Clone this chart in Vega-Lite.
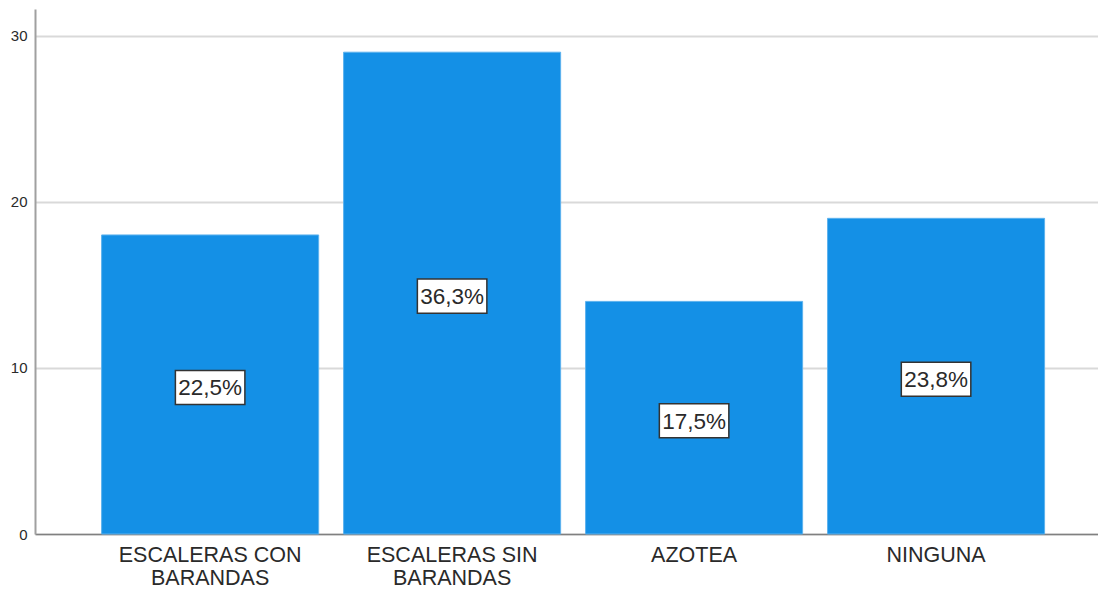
{
  "$schema": "https://vega.github.io/schema/vega-lite/v6.json",
  "width": 1063,
  "height": 525,
  "autosize": {"type": "none"},
  "padding": {"left": 35, "top": 9, "right": 0, "bottom": 55},
  "background": "white",
  "config": {"view": {"stroke": null}},
  "data": {
    "values": [
      {"cat": "ESCALERAS CON BARANDAS", "count": 18, "pct": "22,5%"},
      {"cat": "ESCALERAS SIN BARANDAS", "count": 29, "pct": "36,3%"},
      {"cat": "AZOTEA", "count": 14, "pct": "17,5%"},
      {"cat": "NINGUNA", "count": 19, "pct": "23,8%"}
    ]
  },
  "transform": [{"calculate": "datum.count / 2", "as": "mid"}],
  "encoding": {
    "x": {
      "field": "cat",
      "type": "nominal",
      "sort": null,
      "scale": {"paddingInner": 0.103, "paddingOuter": 0.248, "align": 0.555},
      "axis": {
        "title": null,
        "labelAngle": 0,
        "labelExpr": "indexof(datum.label, ' BARANDAS') > 0 ? [replace(datum.label, ' BARANDAS', ''), 'BARANDAS'] : datum.label",
        "labelLimit": 400,
        "domain": true,
        "domainColor": "#808080",
        "domainWidth": 1.5,
        "ticks": false,
        "grid": false,
        "labelFont": "Liberation Sans",
        "labelFontSize": 21.5,
        "labelColor": "#2a2a2a",
        "labelPadding": 10,
        "labelLineHeight": 23,
        "labelBaseline": "top"
      }
    }
  },
  "layer": [
    {
      "mark": {"type": "bar", "color": "#1490e6", "stroke": "#5db2ee", "strokeWidth": 1},
      "encoding": {
        "y": {
          "field": "count",
          "type": "quantitative",
          "scale": {"domain": [0, 31.6], "nice": false},
          "axis": {
            "title": null,
            "values": [0, 10, 20, 30],
            "ticks": false,
            "domain": true,
            "domainColor": "#a0a0a0",
            "domainWidth": 2,
            "grid": true,
            "gridColor": "#d9d9d9",
            "gridWidth": 2,
            "labelFont": "Liberation Sans",
            "labelFontSize": 15,
            "labelColor": "#2a2a2a",
            "labelPadding": 8
          }
        }
      }
    },
    {
      "mark": {
        "type": "point",
        "shape": "M-1,-0.49H1V0.49H-1Z",
        "size": 4830,
        "filled": true,
        "fill": "white",
        "stroke": "#333333",
        "strokeWidth": 1.5,
        "opacity": 1,
        "yOffset": 3
      },
      "encoding": {
        "y": {
          "field": "mid",
          "type": "quantitative",
          "scale": {"domain": [0, 31.6], "nice": false},
          "axis": {
            "title": null,
            "values": [0, 10, 20, 30],
            "ticks": false,
            "domain": true,
            "domainColor": "#a0a0a0",
            "domainWidth": 2,
            "grid": true,
            "gridColor": "#d9d9d9",
            "gridWidth": 2,
            "labelFont": "Liberation Sans",
            "labelFontSize": 15,
            "labelColor": "#2a2a2a",
            "labelPadding": 8
          }
        }
      }
    },
    {
      "mark": {
        "type": "text",
        "font": "Liberation Sans",
        "fontSize": 22.5,
        "color": "#2a2a2a",
        "baseline": "middle",
        "align": "center",
        "yOffset": 4
      },
      "encoding": {
        "y": {
          "field": "mid",
          "type": "quantitative",
          "scale": {"domain": [0, 31.6], "nice": false},
          "axis": {
            "title": null,
            "values": [0, 10, 20, 30],
            "ticks": false,
            "domain": true,
            "domainColor": "#a0a0a0",
            "domainWidth": 2,
            "grid": true,
            "gridColor": "#d9d9d9",
            "gridWidth": 2,
            "labelFont": "Liberation Sans",
            "labelFontSize": 15,
            "labelColor": "#2a2a2a",
            "labelPadding": 8
          }
        },
        "text": {"field": "pct", "type": "nominal"}
      }
    }
  ]
}
